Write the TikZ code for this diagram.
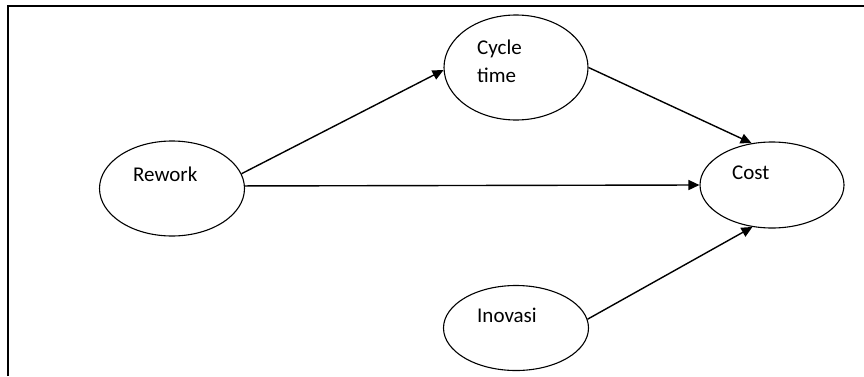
\documentclass[tikz,border=0pt]{standalone}
\usepackage{fontspec}
\setmainfont{Carlito}
\usepackage{tikz}
\usetikzlibrary{positioning,calc,shapes.geometric,arrows.meta}

\tikzset{
  var/.style={draw, ellipse, line width=1.1pt, inner sep=0pt},
  lbl/.style={anchor=west, inner sep=0pt, align=left,
    font=\fontsize{21}{28}\selectfont},
  arr/.style={line width=1.4pt, -{Triangle[length=11pt,width=10pt]}}
}

\begin{document}
\begin{tikzpicture}
    \useasboundingbox (0pt, 0pt) rectangle (864pt, 376pt);

      % Frame
      \draw[line width=2pt] (8pt, 0pt) -- (8pt, 370pt) -- (864pt, 370pt);

      % Variables
      \node[var, minimum width=145pt, minimum height=95pt] (rework) at (172pt, 187.5pt) {};
      \node[var, minimum width=144pt, minimum height=105pt] (cycle) at (516pt, 308.5pt) {};
      \node[var, minimum width=144pt, minimum height=86pt] (cost) at (772pt, 191pt) {};
      \node[var, minimum width=145pt, minimum height=85pt] (inovasi) at (516pt, 48pt) {};

      % Labels
      \node[lbl] (reworktext) at ($(rework.center)+(-39pt, 14pt)$) {Rework};
      \node[lbl] (cycletext) at ($(cycle.center)+(-39pt, 6pt)$) {Cycle\\time};
      \node[lbl] (costtext) at ($(cost.center)+(-40pt, 12pt)$) {Cost};
      \node[lbl] (inovasitext) at ($(inovasi.center)+(-39pt, 13pt)$) {Inovasi};

      % Paths
      \draw[arr] (rework.12) -- (cycle.182);
      \draw[arr] (cycle.0) -- (cost.116);
      \draw[arr] (rework.2) -- (cost.180);
      \draw[arr] (inovasi.7) -- (cost.245);
  \end{tikzpicture}
\end{document}
